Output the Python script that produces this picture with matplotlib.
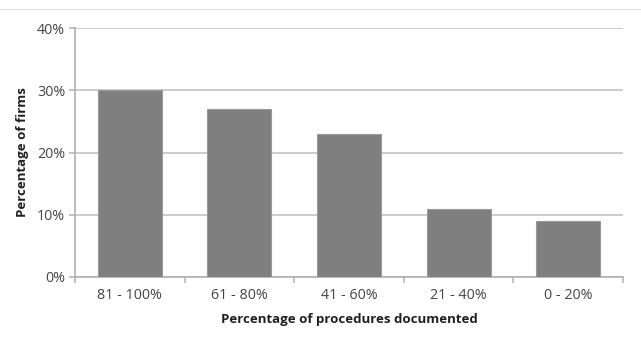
import matplotlib.pyplot as plt
from matplotlib.ticker import PercentFormatter
from matplotlib.lines import Line2D

categories = ['81 - 100%', '61 - 80%', '41 - 60%', '21 - 40%', '0 - 20%']
firms_pct = [30, 27, 23, 11, 9]
y_ticks = [0, 10, 20, 30, 40]

plt.rcParams['font.family'] = ['Open Sans', 'DejaVu Sans']

fig = plt.figure(figsize=(6.41, 3.45), dpi=100)
ax = fig.add_axes([75 / 641, 1 - 277 / 345, (623 - 75) / 641, (277 - 28) / 345])

x = range(len(categories))
ax.bar(x, firms_pct, width=0.585, color='#7f7f7f', edgecolor='#9a9a9a',
       linewidth=0.8, zorder=3)

ax.set_xlim(-0.5, len(categories) - 0.5)
ax.set_ylim(0, 40)
ax.set_yticks(y_ticks)
ax.yaxis.set_major_formatter(PercentFormatter(decimals=0))
ax.grid(axis='y', color='#c8c8c8', linewidth=1.3, zorder=0)

# category separators on the x axis
ax.set_xticks([i - 0.5 for i in range(len(categories) + 1)])
ax.set_xticklabels([])
ax.set_xticks(list(x), minor=True)
ax.set_xticklabels(categories, minor=True)
ax.tick_params(axis='x', which='major', length=4, width=1.1, color='#b0b0b0', direction='out')
ax.tick_params(axis='x', which='minor', length=0, pad=8, labelsize=10.3, labelcolor='#454545')
ax.tick_params(axis='y', length=4, width=1.1, color='#b0b0b0', pad=3,
               labelsize=10.3, labelcolor='#454545')

for side in ['top', 'right']:
    ax.spines[side].set_visible(False)
for side in ['left', 'bottom']:
    ax.spines[side].set_color('#b0b0b0')
    ax.spines[side].set_linewidth(1.2)

ax.set_ylabel('Percentage of firms', fontsize=9.5, fontweight='bold', color='#202020', labelpad=6)
ax.set_xlabel('Percentage of procedures documented', fontsize=9.5, fontweight='bold',
              color='#202020', labelpad=7)

# thin rule across the top of the figure
fig.add_artist(Line2D([0, 1], [1 - 9 / 345, 1 - 9 / 345], transform=fig.transFigure,
                      color='#e0e0e0', linewidth=0.8))

fig.savefig('out.png', dpi=100)
